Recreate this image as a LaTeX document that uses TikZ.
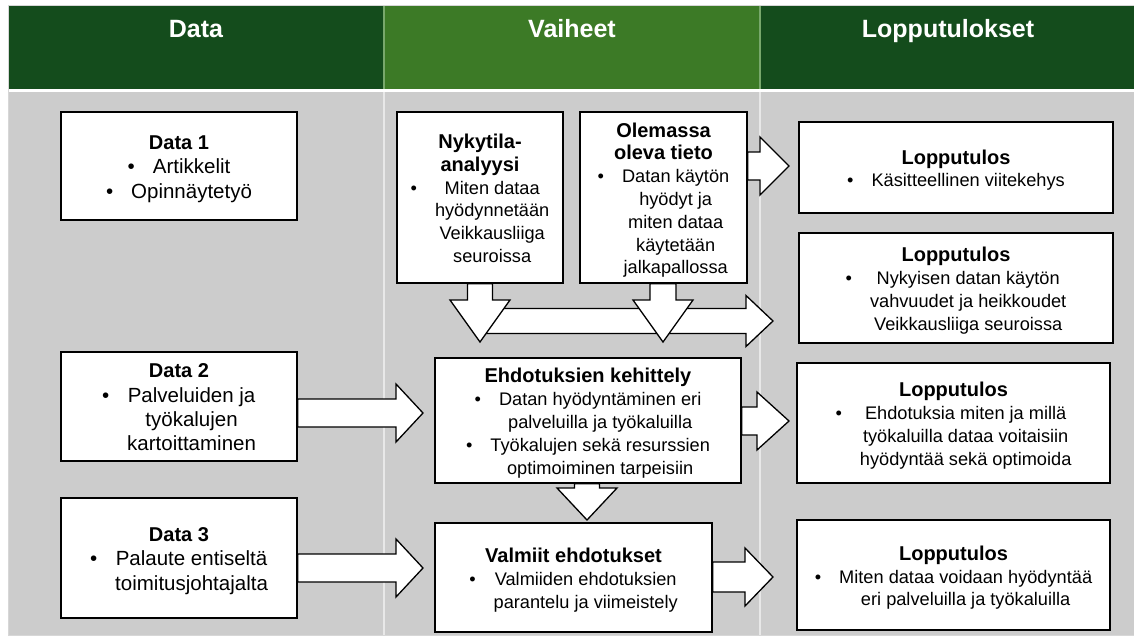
\documentclass[tikz,border=0pt]{standalone}
\usepackage{fontspec}
\setmainfont{Liberation Sans}
\usetikzlibrary{calc}

\definecolor{darkgreen}{RGB}{20,76,28}
\definecolor{midgreen}{RGB}{60,122,38}
\definecolor{bodygrey}{RGB}{204,204,204}
\definecolor{lightline}{RGB}{232,232,232}
\definecolor{headline}{RGB}{120,168,108}
\definecolor{frameline}{RGB}{215,215,215}

\newcommand{\datafont}{\fontsize{20.5}{24.3}\selectfont\lineskip=0pt}
\newcommand{\midfont}{\fontsize{18.2}{22.8}\selectfont\lineskip=0pt}
\newcommand{\ttl}[1]{{\fontsize{20}{24}\selectfont\bfseries #1}}
\newcommand{\topttl}[1]{\rule{0pt}{23pt}\ttl{#1}}
\newcommand{\itm}[1]{\textbullet\hspace{18pt}\begin{tabular}[t]{@{}c@{}}#1\end{tabular}}

\begin{document}
\begin{tikzpicture}[x=1pt,y=-1pt]
  \tikzset{ box/.style={draw,line width=1.5pt,fill=white,inner sep=2pt,align=center},
    head/.style={white,anchor=base,font=\fontsize{25}{29}\selectfont\bfseries},
    rarrow/.style n args={3}{draw=black,line width=1.3pt,fill=white,
      to path={let \p1=(\tikztostart), \p2=(\tikztotarget) in
        (\x1,\y2+#1) -- (\x2-#3,\y2+#1) -- (\x2-#3,\y2+#2) -- (\x2,\y2)
        -- (\x2-#3,\y2-#2) -- (\x2-#3,\y2-#1) -- (\x1,\y2-#1) -- cycle}},
    darrow/.style n args={3}{draw=black,line width=1.3pt,fill=white,
      to path={let \p1=(\tikztostart), \p2=(\tikztotarget) in
        (\x2+#1,\y1) -- (\x2+#1,\y2+#3) -- (\x2+#2,\y2+#3) -- (\x2,\y2)
        -- (\x2-#2,\y2+#3) -- (\x2-#1,\y2+#3) -- (\x2-#1,\y1) -- cycle}},
  }
  \useasboundingbox (0,0) rectangle (1134,635);

  % table background
  \draw[frameline,line width=1pt] (8.5,5.5) rectangle (1134,635);
  \fill[darkgreen] (9,6) rectangle (384,89);
  \fill[midgreen] (384,6) rectangle (760,89);
  \fill[darkgreen] (760,6) rectangle (1134,89);
  \draw[headline,line width=1.5pt] (384,6) -- (384,89) (760,6) -- (760,89);
  \fill[bodygrey] (9,92) rectangle (1134,635);
  \draw[lightline,line width=2pt] (384,92) -- (384,635) (760,92) -- (760,635);

  \node[head] (hdata) at (196,37) {Data};
  \node[head] (hvaih) at (572,37) {Vaiheet};
  \node[head] (hlopp) at (948,37) {Lopputulokset};

  % data column
  \node[box,font=\datafont,minimum width=236pt,minimum height=108pt] (data1) at (179,166)
    {\topttl{Data 1}\\ \itm{Artikkelit}\\ \itm{Opinnäytetyö}};
  \node[box,font=\datafont,minimum width=236pt,minimum height=109pt] (data2) at (179,406.5)
    {\topttl{Data 2}\\ \itm{Palveluiden ja\\työkalujen\\kartoittaminen}};
  \node[box,font=\datafont,minimum width=236pt,minimum height=120pt] (data3) at (179,558)
    {\topttl{Data 3}\\ \itm{Palaute entiseltä\\toimitusjohtajalta}};

  % phases
  \node[box,font=\midfont,minimum width=166pt,minimum height=171pt] (nyk) at (480,197.5)
    {\topttl{Nykytila-}\\ \ttl{analyysi}\\ \itm{Miten dataa\\hyödynnetään\\Veikkausliiga\\seuroissa}};
  \node[box,font=\midfont,minimum width=167pt,minimum height=171pt] (olem) at (663.5,197.5)
    {\topttl{Olemassa}\\ \ttl{oleva tieto}\\ \itm{Datan käytön\\hyödyt ja\\miten dataa\\käytetään\\jalkapallossa}};
  \node[box,font=\midfont,minimum width=306pt,minimum height=125pt] (ehd) at (588,420.5)
    {\topttl{Ehdotuksien kehittely}\\ \itm{Datan hyödyntäminen eri\\palveluilla ja työkaluilla}\\
     \itm{Työkalujen sekä resurssien\\optimoiminen tarpeisiin}};
  \node[box,font=\midfont,minimum width=277pt,minimum height=109pt] (valm) at (573.5,577.5)
    {\topttl{Valmiit ehdotukset}\\ \itm{Valmiiden ehdotuksien\\parantelu ja viimeistely}};

  % results
  \node[box,font=\midfont,minimum width=314pt,minimum height=91pt] (lop1) at (956,167.5)
    {\topttl{Lopputulos}\\ \itm{Käsitteellinen viitekehys}};
  \node[box,font=\midfont,minimum width=314pt,minimum height=110pt] (lop2) at (956,288)
    {\topttl{Lopputulos}\\ \itm{Nykyisen datan käytön\\vahvuudet ja heikkoudet\\Veikkausliiga seuroissa}};
  \node[box,font=\midfont,minimum width=313pt,minimum height=120pt] (lop3) at (953.5,423)
    {\topttl{Lopputulos}\\ \itm{Ehdotuksia miten ja millä\\työkaluilla dataa voitaisiin\\hyödyntää sekä optimoida}};
  \node[box,font=\midfont,minimum width=313pt,minimum height=110pt] (lop4) at (953.5,575)
    {\topttl{Lopputulos}\\ \itm{Miten dataa voidaan hyödyntää\\eri palveluilla ja työkaluilla}};

  % arrow tips
  \coordinate (t1) at (423,413);
  \coordinate (t2) at (423,568);
  \coordinate (t3) at (789,166);
  \coordinate (t4) at (789,421);
  \coordinate (t5) at (773,577);
  \coordinate (t6) at (773,321);
  \coordinate (h0) at (480,321);
  \coordinate (nyktip) at (480,342);
  \coordinate (olemtip) at (663,342);
  \coordinate (ehdtip) at (587,520);

  % the block arrows
  \draw[rarrow={14pt}{29pt}{27pt}] (data2.east) to (t1);
  \draw[rarrow={14pt}{29pt}{27pt}] (data3.east) to (t2);
  \draw[rarrow={14pt}{29pt}{29pt}] (olem.east) to (t3);
  \draw[rarrow={14pt}{29pt}{32pt}] (ehd.east) to (t4);
  \draw[rarrow={15pt}{29pt}{28pt}] (valm.east) to (t5);
  \draw[rarrow={12.5pt}{25.5pt}{27pt}] (h0) to (t6);
  \draw[darrow={12.5pt}{30pt}{42pt}] (nyk.south) to (nyktip);
  \draw[darrow={13pt}{30pt}{42pt}] (olem.south) to (olemtip);
  \draw[darrow={12.5pt}{30pt}{32pt}] (ehd.south) to (ehdtip);
\end{tikzpicture}
\end{document}
